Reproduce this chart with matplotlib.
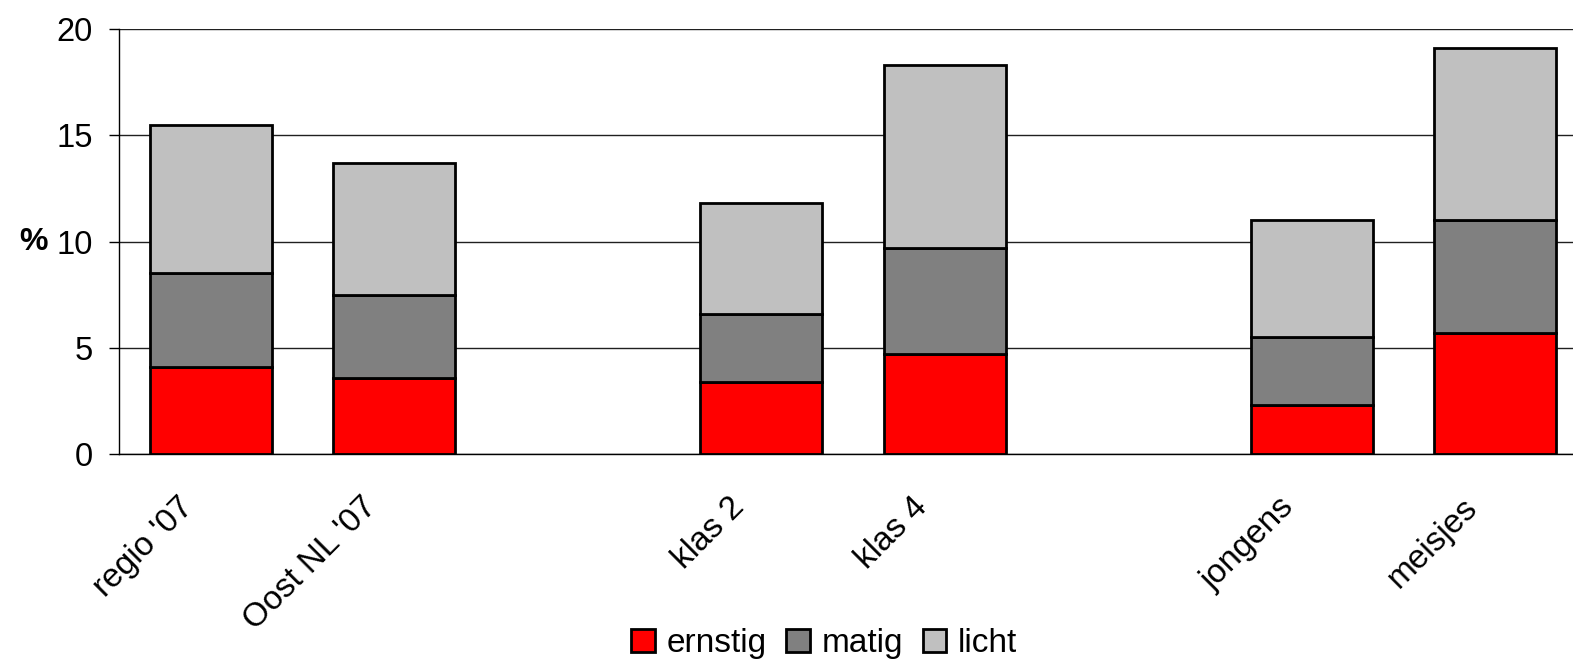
import numpy as np
import matplotlib
matplotlib.use("Agg")
import matplotlib.pyplot as plt
from matplotlib.patches import Patch
from matplotlib.transforms import ScaledTranslation

plt.rcParams['font.family'] = ['Liberation Sans', 'DejaVu Sans']

# Categorieen en groep (lege kolom tussen de groepen)
categories = ["regio '07", "Oost NL '07", "klas 2", "klas 4", "jongens", "meisjes"]
groups = [0, 0, 1, 1, 2, 2]

# Percentages per ernst
ernstig = [4.1, 3.6, 3.4, 4.7, 2.3, 5.7]
matig = [4.4, 3.9, 3.2, 5.0, 3.2, 5.3]
licht = [7.0, 6.2, 5.2, 8.6, 5.5, 8.1]

series_names = ['ernstig', 'matig', 'licht']
series_colors = ['#FF0000', '#808080', '#C0C0C0']

fig = plt.figure(figsize=(15.73, 6.61), dpi=100)
ax = fig.add_axes([119 / 1573, 1 - 454 / 661, 1468 / 1573, 425 / 661])

x = np.arange(len(categories)) + np.array(groups)
bottom = np.zeros(len(categories))
for name, vals, col in zip(series_names, [ernstig, matig, licht], series_colors):
    ax.bar(x, vals, width=0.665, bottom=bottom, color=col,
           edgecolor='black', linewidth=2.0, zorder=3, label=name)
    bottom += np.array(vals)

ax.set_xlim(-0.5, 7.5)
ax.set_ylim(0, 20)
ax.set_yticks([0, 5, 10, 15, 20])
ax.yaxis.grid(True, color='#202020', linewidth=1.0, zorder=0)
ax.set_axisbelow(True)

for side in ['top', 'right']:
    ax.spines[side].set_visible(False)
ax.spines['left'].set_color('black')
ax.spines['left'].set_linewidth(1.0)
ax.spines['bottom'].set_color('black')
ax.spines['bottom'].set_linewidth(1.0)

ax.tick_params(axis='y', direction='out', length=7, width=1.0,
               labelsize=23.5, pad=12)
ax.tick_params(axis='x', length=0, pad=35, labelsize=24)
ax.set_xticks(x)
ax.set_xticklabels(categories, rotation=45, ha='right', va='center',
                   rotation_mode='anchor')
shift = ScaledTranslation(-22 / 100, 0, fig.dpi_scale_trans)
for lbl in ax.get_xticklabels():
    lbl.set_transform(lbl.get_transform() + shift)

ax.set_ylabel('%', rotation=0, fontsize=23, fontweight='bold',
              ha='center', va='center')
ax.yaxis.set_label_coords(-86 / 1468, 0.5)

handles = [Patch(facecolor=c, edgecolor='black', linewidth=2.0) for c in series_colors]
fig.legend(handles, series_names, loc='center', bbox_to_anchor=(0.524, 0.026),
           ncol=3, frameon=False, fontsize=24, handlelength=0.7,
           handleheight=0.7, handletextpad=0.35, columnspacing=0.6)

fig.savefig('out.png', dpi=100)
